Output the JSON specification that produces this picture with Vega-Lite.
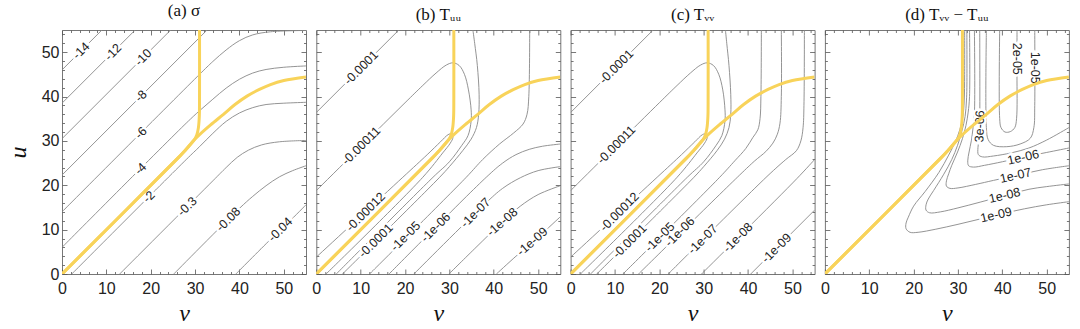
{
  "$schema": "https://vega.github.io/schema/vega-lite/v6.json",
  "padding": {"left": 5, "top": 1, "right": 0, "bottom": 0},
  "bounds": "flush",
  "spacing": 10.3,
  "config": {
    "view": {"stroke": "#777", "strokeWidth": 1},
    "axis": {"domain": false, "grid": false, "labelFont": "Liberation Sans", "labelFontSize": 16, "labelColor": "#222", "tickColor": "#555", "tickWidth": 0.8, "labelOverlap": false, "labelFlush": false, "titleColor": "#111"},
    "title": {"font": "Liberation Serif", "fontSize": 17, "fontWeight": "normal", "color": "#111", "anchor": "middle", "offset": 6}
  },
  "datasets": {
    "yellow": [
      {"id":"A","i":0,"v":0,"u":0},{"id":"A","i":1,"v":26,"u":26},{"id":"A","i":2,"v":27.8,"u":27.9},{"id":"A","i":3,"v":28.8,"u":29},{"id":"A","i":4,"v":29.8,"u":30.2},{"id":"A","i":5,"v":30.4,"u":31.4},{"id":"A","i":6,"v":30.75,"u":33},{"id":"A","i":7,"v":30.95,"u":35.5},{"id":"A","i":8,"v":31,"u":40},{"id":"A","i":9,"v":31,"u":55},
      {"id":"B","i":0,"v":0,"u":0},{"id":"B","i":1,"v":26,"u":26},{"id":"B","i":2,"v":27.8,"u":27.9},{"id":"B","i":3,"v":29.5,"u":29.9},{"id":"B","i":4,"v":31,"u":31.4},{"id":"B","i":5,"v":33.5,"u":33.6},{"id":"B","i":6,"v":36.4,"u":36},{"id":"B","i":7,"v":39,"u":38.2},{"id":"B","i":8,"v":41.7,"u":40.1},{"id":"B","i":9,"v":44.5,"u":41.6},{"id":"B","i":10,"v":47,"u":42.7},{"id":"B","i":11,"v":50,"u":43.6},{"id":"B","i":12,"v":55,"u":44.4}
    ],
    "lines_a": [
      {"id":"a1","i":0,"v":0,"u":46},{"id":"a1","i":1,"v":9,"u":55},
      {"id":"a2","i":0,"v":0,"u":38.5},{"id":"a2","i":1,"v":16.5,"u":55},
      {"id":"a3","i":0,"v":0,"u":30.5},{"id":"a3","i":1,"v":24.5,"u":55},
      {"id":"a4","i":0,"v":0,"u":22.3},{"id":"a4","i":1,"v":32.7,"u":55},
      {"id":"a5","i":0,"v":0,"u":14},{"id":"a5","i":1,"v":31,"u":45},{"id":"a5","i":2,"v":34,"u":47.9},{"id":"a5","i":3,"v":37,"u":50.5},{"id":"a5","i":4,"v":40,"u":52.6},{"id":"a5","i":5,"v":43,"u":53.9},{"id":"a5","i":6,"v":47,"u":54.6},{"id":"a5","i":7,"v":55,"u":54.9},
      {"id":"a6","i":0,"v":0,"u":6},{"id":"a6","i":1,"v":28,"u":34},{"id":"a6","i":2,"v":31,"u":36.8},{"id":"a6","i":3,"v":34,"u":39.4},{"id":"a6","i":4,"v":37,"u":41.9},{"id":"a6","i":5,"v":40,"u":43.9},{"id":"a6","i":6,"v":43,"u":45.3},{"id":"a6","i":7,"v":46,"u":46.1},{"id":"a6","i":8,"v":50,"u":46.6},{"id":"a6","i":9,"v":55,"u":46.9},
      {"id":"a7","i":0,"v":2.2,"u":0},{"id":"a7","i":1,"v":28,"u":25.8},{"id":"a7","i":2,"v":31,"u":28.7},{"id":"a7","i":3,"v":34,"u":31.7},{"id":"a7","i":4,"v":37,"u":34.4},{"id":"a7","i":5,"v":40,"u":36.3},{"id":"a7","i":6,"v":43,"u":37.5},{"id":"a7","i":7,"v":46,"u":38.2},{"id":"a7","i":8,"v":50,"u":38.5},{"id":"a7","i":9,"v":55,"u":38.7},
      {"id":"a8","i":0,"v":13,"u":0},{"id":"a8","i":1,"v":34,"u":21},{"id":"a8","i":2,"v":37,"u":24},{"id":"a8","i":3,"v":39.5,"u":26.3},{"id":"a8","i":4,"v":42,"u":27.9},{"id":"a8","i":5,"v":45,"u":29.1},{"id":"a8","i":6,"v":49,"u":29.8},{"id":"a8","i":7,"v":55,"u":30.1},
      {"id":"a9","i":0,"v":25.2,"u":0},{"id":"a9","i":1,"v":40,"u":14.8},{"id":"a9","i":2,"v":43,"u":17.5},{"id":"a9","i":3,"v":46,"u":19.9},{"id":"a9","i":4,"v":49,"u":21.9},{"id":"a9","i":5,"v":52,"u":23.3},{"id":"a9","i":6,"v":55,"u":24.4},
      {"id":"a10","i":0,"v":39.2,"u":0},{"id":"a10","i":1,"v":47,"u":7.8},{"id":"a10","i":2,"v":51,"u":11.6},{"id":"a10","i":3,"v":55,"u":15.6}
    ],
    "labels_a": [
      {"t":"-14","v":4.3,"u":50.3},{"t":"-12","v":11.5,"u":50},{"t":"-10","v":18.3,"u":48.8},{"t":"-8","v":17.8,"u":40.1},{"t":"-6","v":17.8,"u":31.8},{"t":"-4","v":17.7,"u":23.7},{"t":"-2","v":19.6,"u":17.4},{"t":"-0.3","v":28.2,"u":15.2},{"t":"-0.08","v":37.5,"u":12.3},{"t":"-0.04","v":49.2,"u":10}
    ],
    "lines_b": [
      {"id":"b1","i":0,"v":0,"u":36.4},{"id":"b1","i":1,"v":18.6,"u":55},
      {"id":"b2","i":0,"v":0,"u":18.8},{"id":"b2","i":1,"v":20,"u":38.6},{"id":"b2","i":2,"v":24,"u":42.5},{"id":"b2","i":3,"v":27,"u":45.3},{"id":"b2","i":4,"v":29.3,"u":47.1},{"id":"b2","i":5,"v":30.8,"u":47.6},{"id":"b2","i":6,"v":32.2,"u":47},{"id":"b2","i":7,"v":33.4,"u":45},{"id":"b2","i":8,"v":34.3,"u":41.5},{"id":"b2","i":9,"v":34.9,"u":37},{"id":"b2","i":10,"v":34.9,"u":34.5},{"id":"b2","i":11,"v":34.2,"u":31.2},{"id":"b2","i":12,"v":32.8,"u":29},{"id":"b2","i":13,"v":30,"u":25.3},{"id":"b2","i":14,"v":26.3,"u":21.8},{"id":"b2","i":15,"v":4.5,"u":0},
      {"id":"b3","i":0,"v":0,"u":3.8},{"id":"b3","i":1,"v":19.5,"u":21.8},{"id":"b3","i":2,"v":25,"u":26.9},{"id":"b3","i":3,"v":28,"u":29.8},{"id":"b3","i":4,"v":29.7,"u":31.4},{"id":"b3","i":5,"v":30.5,"u":31.6},{"id":"b3","i":6,"v":30.8,"u":30.8},{"id":"b3","i":7,"v":30.2,"u":29.5},{"id":"b3","i":8,"v":28.5,"u":27.3},{"id":"b3","i":9,"v":24,"u":21.8},{"id":"b3","i":10,"v":2.2,"u":0},
      {"id":"b4","i":0,"v":5.9,"u":0},{"id":"b4","i":1,"v":27.8,"u":21.8},{"id":"b4","i":2,"v":30,"u":24.2},{"id":"b4","i":3,"v":33,"u":27.8},{"id":"b4","i":4,"v":34.9,"u":30.4},{"id":"b4","i":5,"v":36.1,"u":33},{"id":"b4","i":6,"v":36.6,"u":36},{"id":"b4","i":7,"v":36.7,"u":40.5},{"id":"b4","i":8,"v":36.3,"u":47},{"id":"b4","i":9,"v":35.7,"u":52},{"id":"b4","i":10,"v":35.3,"u":55},
      {"id":"b5","i":0,"v":12,"u":0},{"id":"b5","i":1,"v":33.8,"u":21.8},{"id":"b5","i":2,"v":37.5,"u":25.8},{"id":"b5","i":3,"v":41.3,"u":29.3},{"id":"b5","i":4,"v":44.5,"u":31.8},{"id":"b5","i":5,"v":46.6,"u":33.8},{"id":"b5","i":6,"v":47.5,"u":36},{"id":"b5","i":7,"v":47.9,"u":40},{"id":"b5","i":8,"v":48.1,"u":55},
      {"id":"b6","i":0,"v":16.4,"u":0},{"id":"b6","i":1,"v":38.3,"u":21.8},{"id":"b6","i":2,"v":42,"u":25},{"id":"b6","i":3,"v":45,"u":26.9},{"id":"b6","i":4,"v":48,"u":28.1},{"id":"b6","i":5,"v":51,"u":28.8},{"id":"b6","i":6,"v":55,"u":29.3},
      {"id":"b7","i":0,"v":22,"u":0},{"id":"b7","i":1,"v":38,"u":15.8},{"id":"b7","i":2,"v":42,"u":19.3},{"id":"b7","i":3,"v":46,"u":21.7},{"id":"b7","i":4,"v":50,"u":23.3},{"id":"b7","i":5,"v":55,"u":24.2},
      {"id":"b8","i":0,"v":29.9,"u":0},{"id":"b8","i":1,"v":36,"u":6},{"id":"b8","i":2,"v":42,"u":11.8},{"id":"b8","i":3,"v":46,"u":15.3},{"id":"b8","i":4,"v":50,"u":17.9},{"id":"b8","i":5,"v":55,"u":19.9},
      {"id":"b9","i":0,"v":40.6,"u":0},{"id":"b9","i":1,"v":45,"u":4},{"id":"b9","i":2,"v":50,"u":8.3},{"id":"b9","i":3,"v":55,"u":12.9}
    ],
    "labels_b": [
      {"t":"-0.0001","v":10.1,"u":46.5},{"t":"-0.00011","v":10.1,"u":28.9},{"t":"-0.00012","v":11.1,"u":14},{"t":"-0.0001","v":13.4,"u":7.5},{"t":"-1e-05","v":20.1,"u":8.5},{"t":"-1e-06","v":26.9,"u":10.5},{"t":"-1e-07","v":35.9,"u":13.8},{"t":"-1e-08","v":41.9,"u":11.7},{"t":"-1e-09","v":48.7,"u":7.3}
    ],
    "lines_c": [
      {"id":"c1","i":0,"v":0,"u":36.4},{"id":"c1","i":1,"v":18.6,"u":55},
      {"id":"c2","i":0,"v":0,"u":18.8},{"id":"c2","i":1,"v":20,"u":38.6},{"id":"c2","i":2,"v":24,"u":42.5},{"id":"c2","i":3,"v":27,"u":45.3},{"id":"c2","i":4,"v":29.3,"u":47.1},{"id":"c2","i":5,"v":30.8,"u":47.6},{"id":"c2","i":6,"v":32.2,"u":47},{"id":"c2","i":7,"v":33.4,"u":45},{"id":"c2","i":8,"v":34.3,"u":41.5},{"id":"c2","i":9,"v":34.8,"u":37},{"id":"c2","i":10,"v":34.8,"u":34.5},{"id":"c2","i":11,"v":34.1,"u":31.2},{"id":"c2","i":12,"v":32.8,"u":29},{"id":"c2","i":13,"v":30,"u":25.3},{"id":"c2","i":14,"v":26.3,"u":21.8},{"id":"c2","i":15,"v":4.5,"u":0},
      {"id":"c3","i":0,"v":0,"u":3.8},{"id":"c3","i":1,"v":19.5,"u":21.8},{"id":"c3","i":2,"v":25,"u":26.9},{"id":"c3","i":3,"v":28,"u":29.8},{"id":"c3","i":4,"v":29.7,"u":31.4},{"id":"c3","i":5,"v":30.5,"u":31.6},{"id":"c3","i":6,"v":30.8,"u":30.8},{"id":"c3","i":7,"v":30.2,"u":29.5},{"id":"c3","i":8,"v":28.5,"u":27.3},{"id":"c3","i":9,"v":24,"u":21.8},{"id":"c3","i":10,"v":2.2,"u":0},
      {"id":"c4","i":0,"v":5.9,"u":0},{"id":"c4","i":1,"v":27.8,"u":21.8},{"id":"c4","i":2,"v":30,"u":24.2},{"id":"c4","i":3,"v":33,"u":27.8},{"id":"c4","i":4,"v":34.7,"u":30.4},{"id":"c4","i":5,"v":35.7,"u":33},{"id":"c4","i":6,"v":36.1,"u":36},{"id":"c4","i":7,"v":36.1,"u":40.5},{"id":"c4","i":8,"v":35.7,"u":47},{"id":"c4","i":9,"v":35.2,"u":52},{"id":"c4","i":10,"v":34.9,"u":55},
      {"id":"c5","i":0,"v":11.8,"u":0},{"id":"c5","i":1,"v":33.6,"u":21.8},{"id":"c5","i":2,"v":37,"u":25.5},{"id":"c5","i":3,"v":39.5,"u":28.3},{"id":"c5","i":4,"v":41.1,"u":30.8},{"id":"c5","i":5,"v":42.2,"u":32.5},{"id":"c5","i":6,"v":42.7,"u":35},{"id":"c5","i":7,"v":42.9,"u":40},{"id":"c5","i":8,"v":43,"u":55},
      {"id":"c6","i":0,"v":15.3,"u":0},{"id":"c6","i":1,"v":38.1,"u":22.3},{"id":"c6","i":2,"v":41.5,"u":25.5},{"id":"c6","i":3,"v":44,"u":27.6},{"id":"c6","i":4,"v":45.6,"u":29.5},{"id":"c6","i":5,"v":46.6,"u":31.5},{"id":"c6","i":6,"v":47.2,"u":34},{"id":"c6","i":7,"v":47.5,"u":40},{"id":"c6","i":8,"v":47.5,"u":55},
      {"id":"c7","i":0,"v":22,"u":0},{"id":"c7","i":1,"v":44.5,"u":22.2},{"id":"c7","i":2,"v":48.5,"u":25.8},{"id":"c7","i":3,"v":50.9,"u":27.8},{"id":"c7","i":4,"v":51.9,"u":30},{"id":"c7","i":5,"v":52.4,"u":33},{"id":"c7","i":6,"v":52.6,"u":38},{"id":"c7","i":7,"v":52.7,"u":55},
      {"id":"c8","i":0,"v":29.5,"u":0},{"id":"c8","i":1,"v":51,"u":21.5},{"id":"c8","i":2,"v":55,"u":25.8},
      {"id":"c9","i":0,"v":40.6,"u":0},{"id":"c9","i":1,"v":55,"u":14.4}
    ],
    "labels_c": [
      {"t":"-0.0001","v":10.3,"u":46.7},{"t":"-0.00011","v":10.3,"u":29.1},{"t":"-0.00012","v":11,"u":14},{"t":"-0.0001","v":13.3,"u":7.4},{"t":"-1e-05","v":20.1,"u":8.3},{"t":"-1e-06","v":24.6,"u":9.5},{"t":"-1e-07","v":29.8,"u":7.8},{"t":"-1e-08","v":37.7,"u":8.2},{"t":"-1e-09","v":46.4,"u":5.8}
    ],
    "lines_d": [
      {"id":"d1","i":0,"v":39.4,"u":55},{"id":"d1","i":1,"v":39.4,"u":35},{"id":"d1","i":2,"v":39.7,"u":33},{"id":"d1","i":3,"v":40.6,"u":32},{"id":"d1","i":4,"v":41.8,"u":32.1},{"id":"d1","i":5,"v":42.8,"u":33},{"id":"d1","i":6,"v":43.2,"u":35},{"id":"d1","i":7,"v":43.3,"u":45},{"id":"d1","i":8,"v":43.3,"u":55},
      {"id":"d2","i":0,"v":36.4,"u":55},{"id":"d2","i":1,"v":36.4,"u":33},{"id":"d2","i":2,"v":36.8,"u":30.3},{"id":"d2","i":3,"v":38,"u":29},{"id":"d2","i":4,"v":41,"u":28.7},{"id":"d2","i":5,"v":44,"u":29.3},{"id":"d2","i":6,"v":46.3,"u":30.6},{"id":"d2","i":7,"v":47.1,"u":33},{"id":"d2","i":8,"v":47.3,"u":38},{"id":"d2","i":9,"v":47.3,"u":55},
      {"id":"d3","i":0,"v":34.9,"u":55},{"id":"d3","i":1,"v":34.9,"u":34},{"id":"d3","i":2,"v":34.8,"u":31},{"id":"d3","i":3,"v":34.5,"u":28.5},{"id":"d3","i":4,"v":34.6,"u":26.9},{"id":"d3","i":5,"v":35.5,"u":26.4},{"id":"d3","i":6,"v":38,"u":26.6},{"id":"d3","i":7,"v":42,"u":27.3},{"id":"d3","i":8,"v":46,"u":28.4},{"id":"d3","i":9,"v":50,"u":30.2},{"id":"d3","i":10,"v":55,"u":33},
      {"id":"d4","i":0,"v":33.7,"u":55},{"id":"d4","i":1,"v":33.7,"u":36},{"id":"d4","i":2,"v":33.4,"u":33},{"id":"d4","i":3,"v":33,"u":30},{"id":"d4","i":4,"v":32.5,"u":27.5},{"id":"d4","i":5,"v":32.2,"u":25.5},{"id":"d4","i":6,"v":32.4,"u":24.4},{"id":"d4","i":7,"v":33.5,"u":24.1},{"id":"d4","i":8,"v":36,"u":24.5},{"id":"d4","i":9,"v":40,"u":25.3},{"id":"d4","i":10,"v":45,"u":26.4},{"id":"d4","i":11,"v":50,"u":27.4},{"id":"d4","i":12,"v":55,"u":28.4},
      {"id":"d5","i":0,"v":32.6,"u":55},{"id":"d5","i":1,"v":32.6,"u":40},{"id":"d5","i":2,"v":32.3,"u":36.5},{"id":"d5","i":3,"v":31.8,"u":33.5},{"id":"d5","i":4,"v":31,"u":30.5},{"id":"d5","i":5,"v":29.9,"u":27.5},{"id":"d5","i":6,"v":28.6,"u":24.5},{"id":"d5","i":7,"v":27.9,"u":22.6},{"id":"d5","i":8,"v":27.4,"u":21},{"id":"d5","i":9,"v":27.4,"u":19.8},{"id":"d5","i":10,"v":28.2,"u":19.3},{"id":"d5","i":11,"v":30,"u":19.4},{"id":"d5","i":12,"v":34,"u":20.2},{"id":"d5","i":13,"v":38,"u":21.1},{"id":"d5","i":14,"v":44,"u":22.4},{"id":"d5","i":15,"v":49,"u":23.5},{"id":"d5","i":16,"v":55,"u":24.4},
      {"id":"d6","i":0,"v":32,"u":55},{"id":"d6","i":1,"v":32,"u":42},{"id":"d6","i":2,"v":31.9,"u":39},{"id":"d6","i":3,"v":31.6,"u":35.5},{"id":"d6","i":4,"v":30.9,"u":32.3},{"id":"d6","i":5,"v":29.9,"u":29},{"id":"d6","i":6,"v":28.6,"u":25.8},{"id":"d6","i":7,"v":26.8,"u":22.5},{"id":"d6","i":8,"v":24.5,"u":18.8},{"id":"d6","i":9,"v":23.3,"u":16.9},{"id":"d6","i":10,"v":22.8,"u":15.6},{"id":"d6","i":11,"v":22.8,"u":14.4},{"id":"d6","i":12,"v":23.6,"u":13.8},{"id":"d6","i":13,"v":26,"u":14},{"id":"d6","i":14,"v":30,"u":14.9},{"id":"d6","i":15,"v":35,"u":16.2},{"id":"d6","i":16,"v":41,"u":17.8},{"id":"d6","i":17,"v":46,"u":19.1},{"id":"d6","i":18,"v":50,"u":19.7},{"id":"d6","i":19,"v":55,"u":20.3},
      {"id":"d7","i":0,"v":31.5,"u":55},{"id":"d7","i":1,"v":31.5,"u":45},{"id":"d7","i":2,"v":31.4,"u":39},{"id":"d7","i":3,"v":31.1,"u":35.5},{"id":"d7","i":4,"v":30.4,"u":32.5},{"id":"d7","i":5,"v":29.4,"u":29.8},{"id":"d7","i":6,"v":27.9,"u":26.8},{"id":"d7","i":7,"v":25.7,"u":22.9},{"id":"d7","i":8,"v":22.6,"u":18.6},{"id":"d7","i":9,"v":20,"u":15.3},{"id":"d7","i":10,"v":18.8,"u":12.8},{"id":"d7","i":11,"v":18.3,"u":11.5},{"id":"d7","i":12,"v":18.3,"u":10.2},{"id":"d7","i":13,"v":19.2,"u":9.4},{"id":"d7","i":14,"v":21,"u":9.4},{"id":"d7","i":15,"v":25,"u":10.1},{"id":"d7","i":16,"v":30,"u":11.2},{"id":"d7","i":17,"v":35,"u":12.4},{"id":"d7","i":18,"v":40,"u":13.6},{"id":"d7","i":19,"v":45,"u":14.7},{"id":"d7","i":20,"v":50,"u":15.6},{"id":"d7","i":21,"v":55,"u":16.3}
    ],
    "labels_d": [
      {"t":"2e-05","v":43.3,"u":48.5},{"t":"1e-05","v":47.3,"u":46.5},{"t":"3e-06","v":34.9,"u":33.3},{"t":"1e-06","v":44.7,"u":26.3},{"t":"1e-07","v":43,"u":22.2},{"t":"1e-08","v":40.5,"u":17.7},{"t":"1e-09","v":38.6,"u":13.3}
    ]
  },
  "hconcat": [
    {
      "width": 244, "height": 244,
      "title": {"text": "(a) σ"},
      "layer": [
        {"data": {"name": "lines_a"}, "mark": {"type": "line", "stroke": "#888", "strokeWidth": 0.9, "clip": true, "interpolate": "catmull-rom"},
         "encoding": {
           "x": {"field": "v", "type": "quantitative", "scale": {"domain": [0, 55], "nice": false, "zero": false},
                 "axis": {"orient": "bottom", "values": [0,2,4,6,8,10,12,14,16,18,20,22,24,26,28,30,32,34,36,38,40,42,44,46,48,50,52,54], "labelExpr": "datum.value % 10 === 0 ? datum.label : ''", "tickSize": {"condition": {"test": "datum.value % 10 === 0", "value": -5}, "value": -2.5}, "labelPadding": 11, "title": "v", "titleFont": "Liberation Serif", "titleFontStyle": "italic", "titleFontWeight": "normal", "titleFontSize": 24, "titlePadding": 3}},
           "y": {"field": "u", "type": "quantitative", "scale": {"domain": [0, 55], "nice": false, "zero": false},
                 "axis": {"orient": "left", "values": [0,2,4,6,8,10,12,14,16,18,20,22,24,26,28,30,32,34,36,38,40,42,44,46,48,50,52,54], "labelExpr": "datum.value % 10 === 0 ? datum.label : ''", "tickSize": {"condition": {"test": "datum.value % 10 === 0", "value": -5}, "value": -2.5}, "labelPadding": 8, "title": "u", "titleFont": "Liberation Serif", "titleFontStyle": "italic", "titleFontWeight": "normal", "titleFontSize": 24, "titlePadding": 11}},
           "detail": {"field": "id", "type": "nominal"},
           "order": {"field": "i", "type": "quantitative"}
         }},
        {"data": {"name": "labels_a"}, "mark": {"type": "text", "angle": -45, "font": "Liberation Sans", "fontSize": 12.5, "fill": "white", "stroke": "white", "strokeWidth": 5},
         "encoding": {"x": {"field": "v", "type": "quantitative", "axis": null}, "y": {"field": "u", "type": "quantitative", "axis": null}, "text": {"field": "t", "type": "nominal"}}},
        {"data": {"name": "labels_a"}, "mark": {"type": "text", "angle": -45, "font": "Liberation Sans", "fontSize": 12.5, "fill": "#222"},
         "encoding": {"x": {"field": "v", "type": "quantitative", "axis": null}, "y": {"field": "u", "type": "quantitative", "axis": null}, "text": {"field": "t", "type": "nominal"}}},
        {"data": {"name": "yellow"}, "mark": {"type": "line", "stroke": "#F8D35A", "strokeWidth": 3, "clip": true, "interpolate": "catmull-rom"},
         "encoding": {
           "x": {"field": "v", "type": "quantitative", "axis": {"orient": "top", "values": [0,2,4,6,8,10,12,14,16,18,20,22,24,26,28,30,32,34,36,38,40,42,44,46,48,50,52,54], "labels": false, "title": null, "tickSize": {"condition": {"test": "datum.value % 10 === 0", "value": -5}, "value": -2.5}}},
           "y": {"field": "u", "type": "quantitative", "axis": {"orient": "right", "values": [0,2,4,6,8,10,12,14,16,18,20,22,24,26,28,30,32,34,36,38,40,42,44,46,48,50,52,54], "labels": false, "title": null, "tickSize": {"condition": {"test": "datum.value % 10 === 0", "value": -5}, "value": -2.5}}},
           "detail": {"field": "id", "type": "nominal"},
           "order": {"field": "i", "type": "quantitative"}
         }}
      ]
    },
    {
      "width": 244, "height": 244,
      "title": {"text": "(b) Tᵤᵤ"},
      "layer": [
        {"data": {"name": "lines_b"}, "mark": {"type": "line", "stroke": "#888", "strokeWidth": 0.9, "clip": true, "interpolate": "catmull-rom"},
         "encoding": {
           "x": {"field": "v", "type": "quantitative", "scale": {"domain": [0, 55], "nice": false, "zero": false},
                 "axis": {"orient": "bottom", "values": [0,2,4,6,8,10,12,14,16,18,20,22,24,26,28,30,32,34,36,38,40,42,44,46,48,50,52,54], "labelExpr": "datum.value % 10 === 0 ? datum.label : ''", "tickSize": {"condition": {"test": "datum.value % 10 === 0", "value": -5}, "value": -2.5}, "labelPadding": 11, "title": "v", "titleFont": "Liberation Serif", "titleFontStyle": "italic", "titleFontWeight": "normal", "titleFontSize": 24, "titlePadding": 3}},
           "y": {"field": "u", "type": "quantitative", "scale": {"domain": [0, 55], "nice": false, "zero": false},
                 "axis": {"orient": "left", "values": [0,2,4,6,8,10,12,14,16,18,20,22,24,26,28,30,32,34,36,38,40,42,44,46,48,50,52,54], "labels": false, "title": null, "tickSize": {"condition": {"test": "datum.value % 10 === 0", "value": -5}, "value": -2.5}}},
           "detail": {"field": "id", "type": "nominal"},
           "order": {"field": "i", "type": "quantitative"}
         }},
        {"data": {"name": "labels_b"}, "mark": {"type": "text", "font": "Liberation Sans", "fontSize": 12.5, "fill": "white", "stroke": "white", "strokeWidth": 5},
         "encoding": {"x": {"field": "v", "type": "quantitative", "axis": null}, "y": {"field": "u", "type": "quantitative", "axis": null}, "text": {"field": "t", "type": "nominal"},
           "angle": {"condition": {"test": "datum.t === '-1e-08' || datum.t === '-1e-09'", "value": -41}, "value": -45}}},
        {"data": {"name": "labels_b"}, "mark": {"type": "text", "font": "Liberation Sans", "fontSize": 12.5, "fill": "#222"},
         "encoding": {"x": {"field": "v", "type": "quantitative", "axis": null}, "y": {"field": "u", "type": "quantitative", "axis": null}, "text": {"field": "t", "type": "nominal"},
           "angle": {"condition": {"test": "datum.t === '-1e-08' || datum.t === '-1e-09'", "value": -41}, "value": -45}}},
        {"data": {"name": "yellow"}, "mark": {"type": "line", "stroke": "#F8D35A", "strokeWidth": 3, "clip": true, "interpolate": "catmull-rom"},
         "encoding": {
           "x": {"field": "v", "type": "quantitative", "axis": {"orient": "top", "values": [0,2,4,6,8,10,12,14,16,18,20,22,24,26,28,30,32,34,36,38,40,42,44,46,48,50,52,54], "labels": false, "title": null, "tickSize": {"condition": {"test": "datum.value % 10 === 0", "value": -5}, "value": -2.5}}},
           "y": {"field": "u", "type": "quantitative", "axis": {"orient": "right", "values": [0,2,4,6,8,10,12,14,16,18,20,22,24,26,28,30,32,34,36,38,40,42,44,46,48,50,52,54], "labels": false, "title": null, "tickSize": {"condition": {"test": "datum.value % 10 === 0", "value": -5}, "value": -2.5}}},
           "detail": {"field": "id", "type": "nominal"},
           "order": {"field": "i", "type": "quantitative"}
         }}
      ]
    },
    {
      "width": 244, "height": 244,
      "title": {"text": "(c) Tᵥᵥ"},
      "layer": [
        {"data": {"name": "lines_c"}, "mark": {"type": "line", "stroke": "#888", "strokeWidth": 0.9, "clip": true, "interpolate": "catmull-rom"},
         "encoding": {
           "x": {"field": "v", "type": "quantitative", "scale": {"domain": [0, 55], "nice": false, "zero": false},
                 "axis": {"orient": "bottom", "values": [0,2,4,6,8,10,12,14,16,18,20,22,24,26,28,30,32,34,36,38,40,42,44,46,48,50,52,54], "labelExpr": "datum.value % 10 === 0 ? datum.label : ''", "tickSize": {"condition": {"test": "datum.value % 10 === 0", "value": -5}, "value": -2.5}, "labelPadding": 11, "title": "v", "titleFont": "Liberation Serif", "titleFontStyle": "italic", "titleFontWeight": "normal", "titleFontSize": 24, "titlePadding": 3}},
           "y": {"field": "u", "type": "quantitative", "scale": {"domain": [0, 55], "nice": false, "zero": false},
                 "axis": {"orient": "left", "values": [0,2,4,6,8,10,12,14,16,18,20,22,24,26,28,30,32,34,36,38,40,42,44,46,48,50,52,54], "labels": false, "title": null, "tickSize": {"condition": {"test": "datum.value % 10 === 0", "value": -5}, "value": -2.5}}},
           "detail": {"field": "id", "type": "nominal"},
           "order": {"field": "i", "type": "quantitative"}
         }},
        {"data": {"name": "labels_c"}, "mark": {"type": "text", "angle": -45, "font": "Liberation Sans", "fontSize": 12.5, "fill": "white", "stroke": "white", "strokeWidth": 5},
         "encoding": {"x": {"field": "v", "type": "quantitative", "axis": null}, "y": {"field": "u", "type": "quantitative", "axis": null}, "text": {"field": "t", "type": "nominal"}}},
        {"data": {"name": "labels_c"}, "mark": {"type": "text", "angle": -45, "font": "Liberation Sans", "fontSize": 12.5, "fill": "#222"},
         "encoding": {"x": {"field": "v", "type": "quantitative", "axis": null}, "y": {"field": "u", "type": "quantitative", "axis": null}, "text": {"field": "t", "type": "nominal"}}},
        {"data": {"name": "yellow"}, "mark": {"type": "line", "stroke": "#F8D35A", "strokeWidth": 3, "clip": true, "interpolate": "catmull-rom"},
         "encoding": {
           "x": {"field": "v", "type": "quantitative", "axis": {"orient": "top", "values": [0,2,4,6,8,10,12,14,16,18,20,22,24,26,28,30,32,34,36,38,40,42,44,46,48,50,52,54], "labels": false, "title": null, "tickSize": {"condition": {"test": "datum.value % 10 === 0", "value": -5}, "value": -2.5}}},
           "y": {"field": "u", "type": "quantitative", "axis": {"orient": "right", "values": [0,2,4,6,8,10,12,14,16,18,20,22,24,26,28,30,32,34,36,38,40,42,44,46,48,50,52,54], "labels": false, "title": null, "tickSize": {"condition": {"test": "datum.value % 10 === 0", "value": -5}, "value": -2.5}}},
           "detail": {"field": "id", "type": "nominal"},
           "order": {"field": "i", "type": "quantitative"}
         }}
      ]
    },
    {
      "width": 244, "height": 244,
      "title": {"text": "(d) Tᵥᵥ − Tᵤᵤ"},
      "layer": [
        {"data": {"name": "lines_d"}, "mark": {"type": "line", "stroke": "#888", "strokeWidth": 0.9, "clip": true, "interpolate": "catmull-rom"},
         "encoding": {
           "x": {"field": "v", "type": "quantitative", "scale": {"domain": [0, 55], "nice": false, "zero": false},
                 "axis": {"orient": "bottom", "values": [0,2,4,6,8,10,12,14,16,18,20,22,24,26,28,30,32,34,36,38,40,42,44,46,48,50,52,54], "labelExpr": "datum.value % 10 === 0 ? datum.label : ''", "tickSize": {"condition": {"test": "datum.value % 10 === 0", "value": -5}, "value": -2.5}, "labelPadding": 11, "title": "v", "titleFont": "Liberation Serif", "titleFontStyle": "italic", "titleFontWeight": "normal", "titleFontSize": 24, "titlePadding": 3}},
           "y": {"field": "u", "type": "quantitative", "scale": {"domain": [0, 55], "nice": false, "zero": false},
                 "axis": {"orient": "left", "values": [0,2,4,6,8,10,12,14,16,18,20,22,24,26,28,30,32,34,36,38,40,42,44,46,48,50,52,54], "labels": false, "title": null, "tickSize": {"condition": {"test": "datum.value % 10 === 0", "value": -5}, "value": -2.5}}},
           "detail": {"field": "id", "type": "nominal"},
           "order": {"field": "i", "type": "quantitative"}
         }},
        {"data": {"name": "labels_d"}, "mark": {"type": "text", "font": "Liberation Sans", "fontSize": 12.5, "fill": "white", "stroke": "white", "strokeWidth": 5},
         "encoding": {"x": {"field": "v", "type": "quantitative", "axis": null}, "y": {"field": "u", "type": "quantitative", "axis": null}, "text": {"field": "t", "type": "nominal"},
           "angle": {"condition": [{"test": "datum.t === '2e-05' || datum.t === '1e-05'", "value": 90}, {"test": "datum.t === '3e-06'", "value": -88}], "value": -13}}},
        {"data": {"name": "labels_d"}, "mark": {"type": "text", "font": "Liberation Sans", "fontSize": 12.5, "fill": "#222"},
         "encoding": {"x": {"field": "v", "type": "quantitative", "axis": null}, "y": {"field": "u", "type": "quantitative", "axis": null}, "text": {"field": "t", "type": "nominal"},
           "angle": {"condition": [{"test": "datum.t === '2e-05' || datum.t === '1e-05'", "value": 90}, {"test": "datum.t === '3e-06'", "value": -88}], "value": -13}}},
        {"data": {"name": "yellow"}, "mark": {"type": "line", "stroke": "#F8D35A", "strokeWidth": 3, "clip": true, "interpolate": "catmull-rom"},
         "encoding": {
           "x": {"field": "v", "type": "quantitative", "axis": {"orient": "top", "values": [0,2,4,6,8,10,12,14,16,18,20,22,24,26,28,30,32,34,36,38,40,42,44,46,48,50,52,54], "labels": false, "title": null, "tickSize": {"condition": {"test": "datum.value % 10 === 0", "value": -5}, "value": -2.5}}},
           "y": {"field": "u", "type": "quantitative", "axis": {"orient": "right", "values": [0,2,4,6,8,10,12,14,16,18,20,22,24,26,28,30,32,34,36,38,40,42,44,46,48,50,52,54], "labels": false, "title": null, "tickSize": {"condition": {"test": "datum.value % 10 === 0", "value": -5}, "value": -2.5}}},
           "detail": {"field": "id", "type": "nominal"},
           "order": {"field": "i", "type": "quantitative"}
         }}
      ]
    }
  ]
}
